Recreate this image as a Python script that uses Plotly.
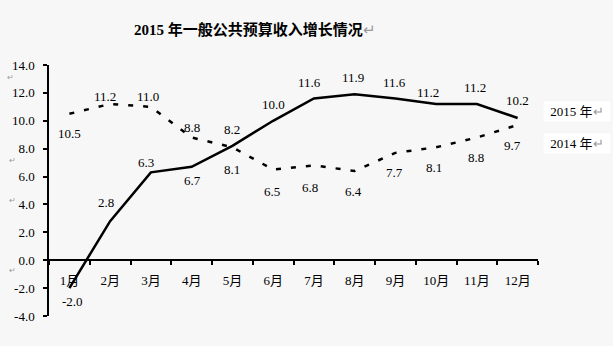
import plotly.graph_objects as go

months = ["1月", "2月", "3月", "4月", "5月", "6月", "7月", "8月", "9月", "10月", "11月", "12月"]
v2015 = [-2.0, 2.8, 6.3, 6.7, 8.2, 10.0, 11.6, 11.9, 11.6, 11.2, 11.2, 10.2]
v2014 = [10.5, 11.2, 11.0, 8.8, 8.1, 6.5, 6.8, 6.4, 7.7, 8.1, 8.8, 9.7]
ytick_vals = [-4, -2, 0, 2, 4, 6, 8, 10, 12, 14]
title_text = "2015 年一般公共预算收入增长情况"
series_names = ["2015 年", "2014 年"]

# label offsets (style)
ys15 = [-13, 19, 10, -14, 16, 16, 16, 17, 16, 12, 17, 17]
xs15 = [3, -4, -5, 1, 0, 0, -4, -2, -1, -8, -2, 0]
ys14 = [-20, 8, 10, 10, -22, -22, -22, -21, -20, -20, -20, -21]
xs14 = [0, -5, -3, 0, 0, -1, -4, -1, -1, -2, -1, -5]

BG = "#f7f7f7"
FONT = "Liberation Serif, Noto Sans CJK SC, serif"
RET = "<span style='color:#9a9a9a'>↵</span>"

fig = go.Figure()
fig.add_trace(go.Scatter(x=months, y=v2014, mode="lines", name=series_names[1],
                         line=dict(color="black", width=2.5, dash="5px,10px")))
fig.add_trace(go.Scatter(x=months, y=v2015, mode="lines", name=series_names[0],
                         line=dict(color="black", width=2.5)))

ann = []
for i, m in enumerate(months):
    ann.append(dict(x=m, y=v2015[i], xref="x", yref="y", text=f"{v2015[i]:.1f}",
                    showarrow=False, yshift=ys15[i], xshift=xs15[i],
                    font=dict(family=FONT, size=13, color="black")))
    ann.append(dict(x=m, y=v2014[i], xref="x", yref="y", text=f"{v2014[i]:.1f}",
                    showarrow=False, yshift=ys14[i], xshift=xs14[i],
                    font=dict(family=FONT, size=13, color="black")))

# title
ann.append(dict(x=(252 - 43) / 495, y=1, xref="paper", yref="paper", yshift=46,
                text="<b>" + title_text + "</b>" + RET, showarrow=False,
                font=dict(family=FONT, size=15, color="black")))

# legend boxes
for k, (name, yp) in enumerate(zip(series_names, [112, 143])):
    ann.append(dict(x=1.01, y=(316 - yp) / 251, xref="paper", yref="paper",
                    xanchor="left", yanchor="middle", text=name + RET, showarrow=False,
                    bgcolor="white", width=64, height=17, align="center",
                    font=dict(family=FONT, size=13, color="black")))

# stray paragraph marks near the y axis (only those on their own rows)
for (px, py) in [(9, 72), (11, 160), (11, 200), (11, 276)]:
    ann.append(dict(x=(px - 43) / 495, y=(316 - py) / 251, xref="paper", yref="paper",
                    xanchor="right", text="↵", showarrow=False, borderpad=0,
                    font=dict(family=FONT, size=8, color="#9a9a9a")))

fig.update_layout(
    width=613, height=346,
    margin=dict(l=43, r=75, t=65, b=30),
    paper_bgcolor=BG, plot_bgcolor=BG,
    showlegend=False,
    annotations=ann,
    font=dict(family=FONT, size=13, color="black"),
)
fig.update_xaxes(
    type="category", range=[-0.5, 11.5], showgrid=False, zeroline=False,
    showline=True, linecolor="black", linewidth=1.5,
    ticks="outside", ticklen=4, tickcolor="black", tickwidth=1.5, tickson="boundaries",
    anchor="free", position=4 / 18, ticklabelstandoff=8,
    tickfont=dict(family=FONT, size=13, color="black"),
)
fig.update_yaxes(
    range=[-4, 14], tickvals=ytick_vals, ticktext=[f"{v:.1f}" for v in ytick_vals],
    showgrid=False, zeroline=False, showline=True, linecolor="black", linewidth=1.5,
    ticks="outside", ticklen=4, tickcolor="black", tickwidth=1.5,
    ticklabelstandoff=6,
    tickfont=dict(family=FONT, size=13, color="black"),
)

fig.write_html("out.html")
